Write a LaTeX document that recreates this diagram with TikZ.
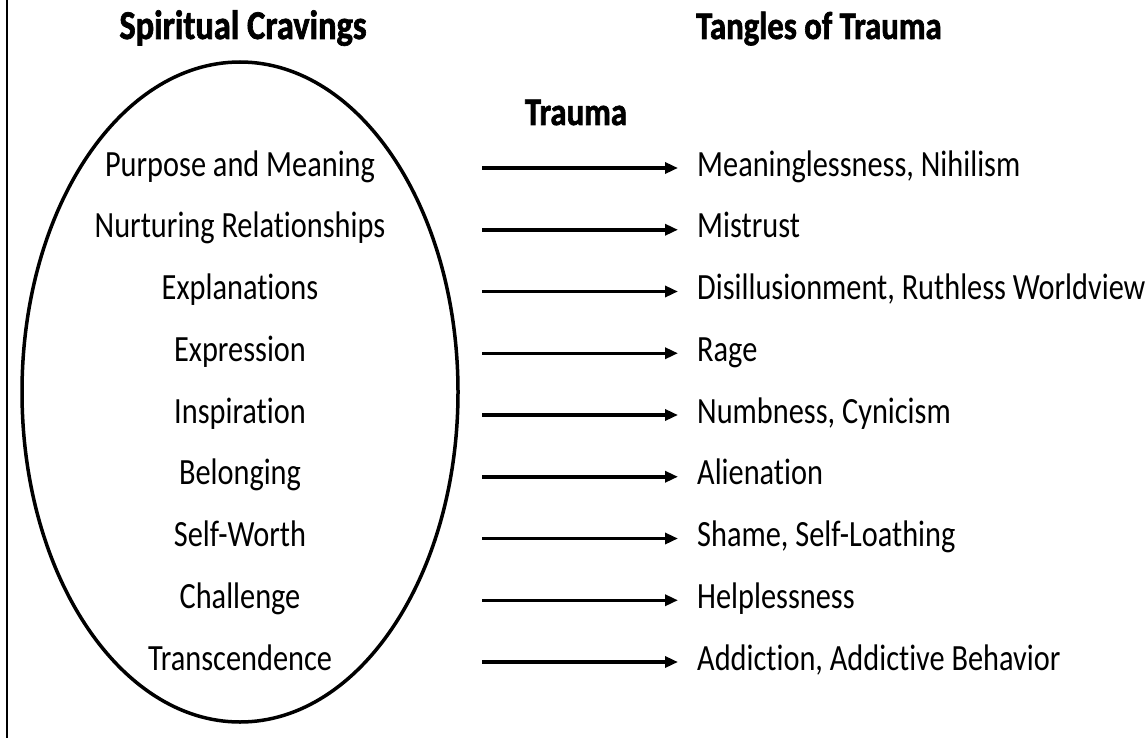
\documentclass[tikz,border=0pt]{standalone}
\usepackage{fontspec}
\setmainfont{Carlito}[FakeStretch=0.82,Ligatures={NoCommon},
  BoldFeatures={FakeStretch=0.84,FakeBold=1.6}]
\usetikzlibrary{arrows.meta}
\begin{document}
\begin{tikzpicture}[x=1pt,y=-1pt,
  heading/.style={inner sep=0pt,font=\bfseries\fontsize{39}{41}\selectfont},
  craving/.style={inner sep=0pt,anchor=base,font=\fontsize{37}{40}\selectfont},
  tangle/.style={inner sep=0pt,anchor=base west,font=\fontsize{37}{40}\selectfont},
  arr/.style={line width=3.5pt,-{Triangle[length=13pt,width=11pt]},shorten >=19pt}]
\useasboundingbox (0,0) rectangle (1147,738);
% frame line on the left edge
\draw[line width=2pt] (7,0) -- (7,738);
% column headings
\node[heading,anchor=base,font=\bfseries\fontsize{41}{43}\selectfont] (hc) at (243,39) {Spiritual Cravings};
\node[heading,anchor=base west] (ht) at (696,39) {Tangles of Trauma};
\node[heading,anchor=base] (tr) at (576,125) {Trauma};
% ellipse enclosing the cravings
\draw[line width=3.5pt] (240,392) ellipse [x radius=218, y radius=330];
% rows: craving, arrow, consequence
\foreach \i/\c/\t in {0/Purpose and Meaning/{Meaninglessness, Nihilism},
  1/Nurturing Relationships/Mistrust,
  2/Explanations/{Disillusionment, Ruthless Worldview},
  3/Expression/Rage,
  4/Inspiration/{Numbness, Cynicism},
  5/Belonging/Alienation,
  6/Self-Worth/{Shame, Self-Loathing},
  7/Challenge/Helplessness,
  8/Transcendence/{Addiction, Addictive Behavior}}{
  \pgfmathsetmacro{\yy}{168+61.75*\i}
  \node[craving] (c\i) at (240,\yy+8) {\c};
  \node[tangle] (t\i) at (697,\yy+8) {\t};
  \coordinate (s\i) at (482,\yy);
  \draw[arr] (s\i) -- (s\i -| t\i.west);
}
\end{tikzpicture}
\end{document}
